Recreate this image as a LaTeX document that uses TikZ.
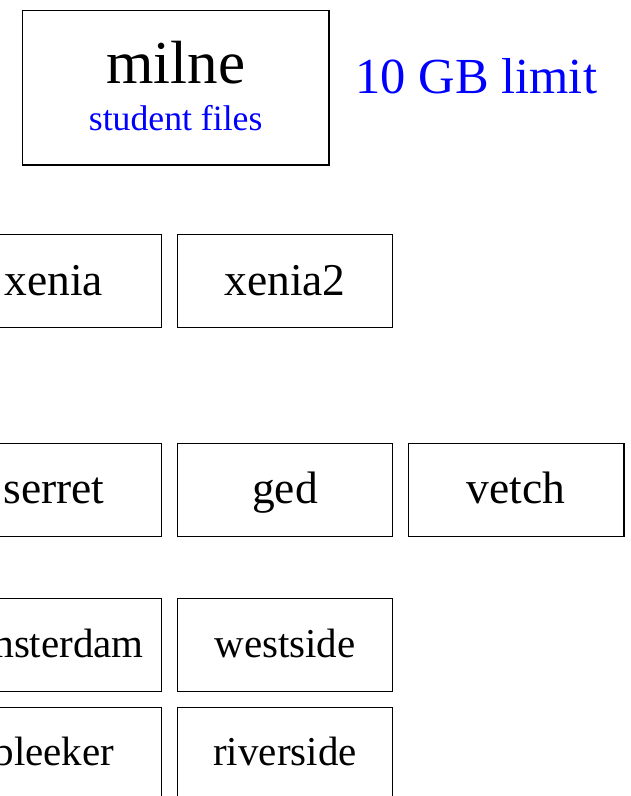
\documentclass[tikz,border=0pt]{standalone}
\usepackage{fontspec}
\setmainfont{Liberation Serif}
\definecolor{labelblue}{RGB}{0,0,255}
\tikzset{
  hostbox/.style={draw, line width=1.1pt, minimum width=215.5pt, minimum height=93pt, inner sep=0pt},
  bigrow/.style={hostbox, font=\fontsize{45.5}{50}\selectfont, text height=28pt, text depth=0pt},
  smallrow/.style={hostbox, font=\fontsize{41}{46}\selectfont, text height=24pt, text depth=0pt},
  plaintext/.style={inner sep=0pt, anchor=base}
}
\begin{document}
\begin{tikzpicture}[x=1pt,y=-1pt]
\useasboundingbox (0,0) rectangle (630,796);
\clip (0,0) rectangle (630,796);
% milne
\node[draw, line width=1.1pt, minimum width=306.7pt, minimum height=154.3pt, inner sep=0pt] (milne) at (175.65,87.85) {};
\node[plaintext, font=\fontsize{61}{66}\selectfont] (milnename) at (175.65,83.3) {milne};
\node[plaintext, font=\fontsize{35.7}{40}\selectfont, text=labelblue] (milnesub) at (175.65,130) {student files};
\node[inner sep=0pt, anchor=base west, font=\fontsize{50.5}{55}\selectfont, text=labelblue] (limit) at (355.5,93.3) {10 GB limit};
% row 2
\node[bigrow] (xenia) at (53.85,281.2) {xenia};
\node[bigrow] (xeniatwo) at (285,281.2) {xenia2};
% row 3
\node[bigrow] (serret) at (53.85,489.7) {serret};
\node[bigrow] (ged) at (285,489.7) {ged};
\node[bigrow] (vetch) at (516.2,489.7) {vetch};
% row 4
\node[smallrow] (amsterdam) at (53.85,645.3) {amsterdam};
\node[smallrow] (westside) at (285,645.3) {westside};
% row 5
\node[smallrow] (bleeker) at (53.85,753.7) {bleeker};
\node[smallrow] (riverside) at (285,753.7) {riverside};
\end{tikzpicture}
\end{document}
